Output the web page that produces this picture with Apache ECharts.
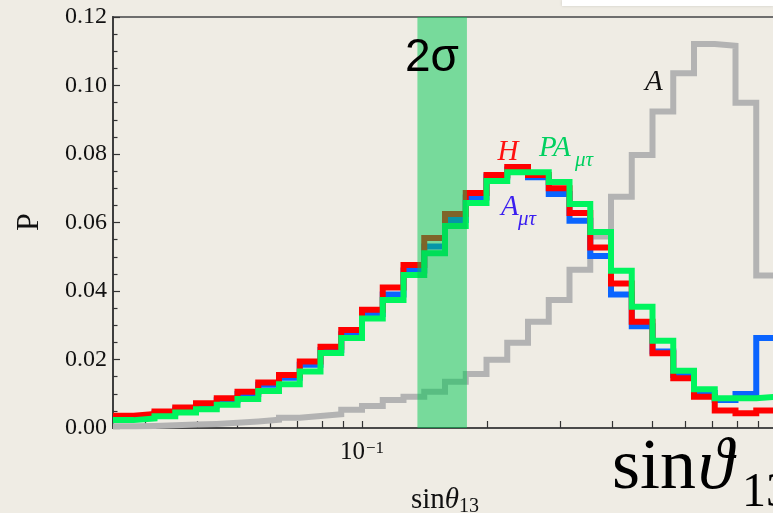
<!DOCTYPE html>
<html>
<head>
<meta charset="utf-8">
<script src="https://cdn.jsdelivr.net/npm/echarts@6/dist/echarts.min.js"></script>
<style>
  html, body { margin: 0; padding: 0; background: #efece4; }
  #chart { width: 773px; height: 513px; }
</style>
</head>
<body>
<div id="chart"></div>
<script>
// Histogram bin edges, as log10(sinθ13)
const binEdgesLog10 = [
  -1.60, -1.55, -1.50, -1.45, -1.40, -1.35, -1.30, -1.25, -1.20, -1.15, -1.10,
  -1.05, -1.00, -0.95, -0.90, -0.85, -0.80, -0.75, -0.70, -0.65, -0.60,
  -0.55, -0.50, -0.45, -0.40, -0.35, -0.30, -0.25, -0.20, -0.15, -0.10,
  -0.05, 0.00
];

// Probability per bin
const probH = [
  0.0036, 0.0041, 0.0048, 0.0060, 0.0072, 0.0087, 0.0106, 0.0133, 0.0155, 0.0194, 0.0237,
  0.0286, 0.0345, 0.0410, 0.0476, 0.0555, 0.0625, 0.0686, 0.0739, 0.0762, 0.0739,
  0.0700, 0.0628, 0.0527, 0.0422, 0.0310, 0.0218, 0.0145, 0.0091, 0.0051, 0.0043,
  0.0051
];
const probAmt = [
  0.0031, 0.0036, 0.0043, 0.0054, 0.0066, 0.0081, 0.0099, 0.0126, 0.0147, 0.0185, 0.0228,
  0.0274, 0.0333, 0.0390, 0.0460, 0.0530, 0.0607, 0.0673, 0.0734, 0.0755, 0.0732,
  0.0683, 0.0605, 0.0502, 0.0390, 0.0297, 0.0223, 0.0155, 0.0102, 0.0082, 0.0099,
  0.0263
];
const probPAmt = [
  0.0023, 0.0028, 0.0034, 0.0045, 0.0055, 0.0068, 0.0085, 0.0108, 0.0128, 0.0165, 0.0219,
  0.0263, 0.0320, 0.0374, 0.0447, 0.0510, 0.0590, 0.0657, 0.0721, 0.0747, 0.0747,
  0.0718, 0.0654, 0.0572, 0.0459, 0.0354, 0.0255, 0.0167, 0.0113, 0.0087, 0.0087,
  0.0091
];
const probA = [
  0.0005, 0.0006, 0.0008, 0.0010, 0.0012, 0.0015, 0.0019, 0.0024, 0.0030, 0.0035, 0.0040,
  0.0053, 0.0064, 0.0082, 0.0091, 0.0106, 0.0135, 0.0158, 0.0199, 0.0249, 0.0310,
  0.0374, 0.0462, 0.0559, 0.0675, 0.0797, 0.0924, 0.1036, 0.1121, 0.1116, 0.0950,
  0.0445
];

// 2σ allowed range of sinθ13
const sigmaBand = [0.136, 0.179];

// Axis ticks
const xTickValues = [0.03, 0.04, 0.05, 0.06, 0.07, 0.08, 0.09, 0.1, 0.2, 0.3, 0.4, 0.5, 0.6, 0.7, 0.8, 0.9];
const xLabelValues = [0.1];
const yMin = 0, yMax = 0.12, yStep = 0.02;

const SERIF = "Liberation Serif";
const SANS = "Liberation Sans";

function stepData(values) {
  const pts = values.map((v, i) => [Math.pow(10, binEdgesLog10[i]), v]);
  pts.push([Math.pow(10, binEdgesLog10[values.length]), values[values.length - 1]]);
  return pts;
}

function histSeries(name, values, color, z) {
  return {
    name: name,
    type: 'line',
    step: 'end',
    data: stepData(values),
    symbol: 'none',
    clip: false,
    z: z,
    lineStyle: { color: color, width: 6, join: 'miter', cap: 'butt' },
    silent: true
  };
}

const chart = echarts.init(document.getElementById('chart'), null, { renderer: 'canvas' });

chart.setOption({
  animation: false,
  backgroundColor: '#efece4',
  grid: {
    left: 113, top: 17, right: -4, bottom: 85,
    containLabel: false,
    outerBoundsMode: 'none',
    show: true, borderColor: '#6e6e6e', borderWidth: 2, backgroundColor: 'transparent'
  },
  xAxis: {
    type: 'log',
    logBase: 10,
    min: Math.pow(10, binEdgesLog10[0]),
    max: Math.pow(10, binEdgesLog10[binEdgesLog10.length - 1]),
    axisLine: { show: true, lineStyle: { color: '#4a4a4a', width: 2 } },
    axisTick: { show: true, inside: true, length: 7, customValues: xTickValues,
                lineStyle: { color: '#333', width: 1.2 } },
    minorTick: { show: false },
    splitLine: { show: false },
    axisLabel: {
      customValues: xLabelValues,
      margin: 12,
      formatter: () => '{a|10}{b|−1}',
      rich: {
        a: { fontFamily: SERIF, fontSize: 25, color: '#111' },
        b: { fontFamily: SERIF, fontSize: 17, color: '#111', verticalAlign: 'top', padding: [0, 0, 0, 1] }
      }
    },
    name: '{a|sin}{b|θ}{c|13}',
    nameLocation: 'middle',
    nameGap: 55,
    nameTextStyle: {
      rich: {
        a: { fontFamily: SERIF, fontSize: 29, color: '#111' },
        b: { fontFamily: SERIF, fontSize: 29, fontStyle: 'italic', color: '#111' },
        c: { fontFamily: SERIF, fontSize: 20, color: '#111', verticalAlign: 'bottom', padding: [14, 0, 0, 0] }
      }
    }
  },
  yAxis: {
    type: 'value',
    min: yMin, max: yMax, interval: yStep,
    axisLine: { show: true, lineStyle: { color: '#3e3e3e', width: 2 } },
    axisTick: { show: true, inside: true, length: 7, lineStyle: { color: '#333', width: 1.2 } },
    minorTick: { show: true, splitNumber: 4, length: 4.5, lineStyle: { color: '#333', width: 1.2 } },
    splitLine: { show: false },
    axisLabel: {
      formatter: v => v.toFixed(2),
      fontFamily: SERIF, fontSize: 24, color: '#111', margin: 6
    }
  },
  series: [
    histSeries('A', probA, '#b3b3b3', 2),
    histSeries('Aμτ', probAmt, '#0a64ff', 3),
    histSeries('H', probH, '#ff0000', 4),
    histSeries('PAμτ', probPAmt, '#00f55e', 5),
    {
      name: '2σ',
      type: 'custom',
      z: 10,
      silent: true,
      data: [[sigmaBand[0], sigmaBand[1], yMin, yMax]],
      encode: { x: [0, 1], y: [2, 3] },
      renderItem: (params, api) => {
        const p0 = api.coord([api.value(0), api.value(3)]);
        const p1 = api.coord([api.value(1), api.value(2)]);
        return {
          type: 'rect',
          shape: { x: p0[0], y: p0[1], width: p1[0] - p0[0], height: p1[1] - p0[1] },
          style: { fill: 'rgba(0, 200, 82, 0.5)' }
        };
      }
    }
  ],
  graphic: [
    { type: 'rect', shape: { x: 562, y: 0, width: 211, height: 6 },
      style: { fill: '#ffffff', shadowBlur: 3, shadowColor: 'rgba(0,0,0,0.15)' }, z: 20 },
    { type: 'text', x: 30, y: 222, rotation: Math.PI / 2,
      style: { text: 'P', font: '32px ' + SERIF, fill: '#111', align: 'center', verticalAlign: 'middle' } },
    { type: 'text', x: 432, y: 58, z: 30,
      style: { text: '2σ', font: '46px ' + SANS, fill: '#000', align: 'center', verticalAlign: 'middle' } },
    { type: 'text', x: 508, y: 152, z: 30,
      style: { text: 'H', font: 'italic 29px ' + SERIF, fill: '#ff1010', align: 'center', verticalAlign: 'middle' } },
    { type: 'text', x: 539, y: 148, z: 30,
      style: { text: 'PA', font: 'italic 29px ' + SERIF, fill: '#00d060', align: 'left', verticalAlign: 'middle' } },
    { type: 'text', x: 575, y: 160, z: 30,
      style: { text: 'μτ', font: 'italic 21px ' + SERIF, fill: '#00d060', align: 'left', verticalAlign: 'middle' } },
    { type: 'text', x: 501, y: 207, z: 30,
      style: { text: 'A', font: 'italic 29px ' + SERIF, fill: '#3a1ef0', align: 'left', verticalAlign: 'middle' } },
    { type: 'text', x: 518, y: 219, z: 30,
      style: { text: 'μτ', font: 'italic 21px ' + SERIF, fill: '#3a1ef0', align: 'left', verticalAlign: 'middle' } },
    { type: 'text', x: 645, y: 82, z: 30,
      style: { text: 'A', font: 'italic 29px ' + SERIF, fill: '#111', align: 'left', verticalAlign: 'middle' } },
    { type: 'text', x: 612, y: 469, z: 30,
      style: { text: 'sin', font: '72px ' + SERIF, fill: '#000', align: 'left', verticalAlign: 'middle' } },
    { type: 'text', x: 698, y: 469, z: 30,
      style: { text: 'ϑ', font: 'italic 72px ' + SERIF, fill: '#000', align: 'left', verticalAlign: 'middle' } },
    { type: 'text', x: 742, y: 493, z: 30,
      style: { text: '13', font: '48px ' + SERIF, fill: '#000', align: 'left', verticalAlign: 'middle' } }
  ]
});
</script>
</body>
</html>
